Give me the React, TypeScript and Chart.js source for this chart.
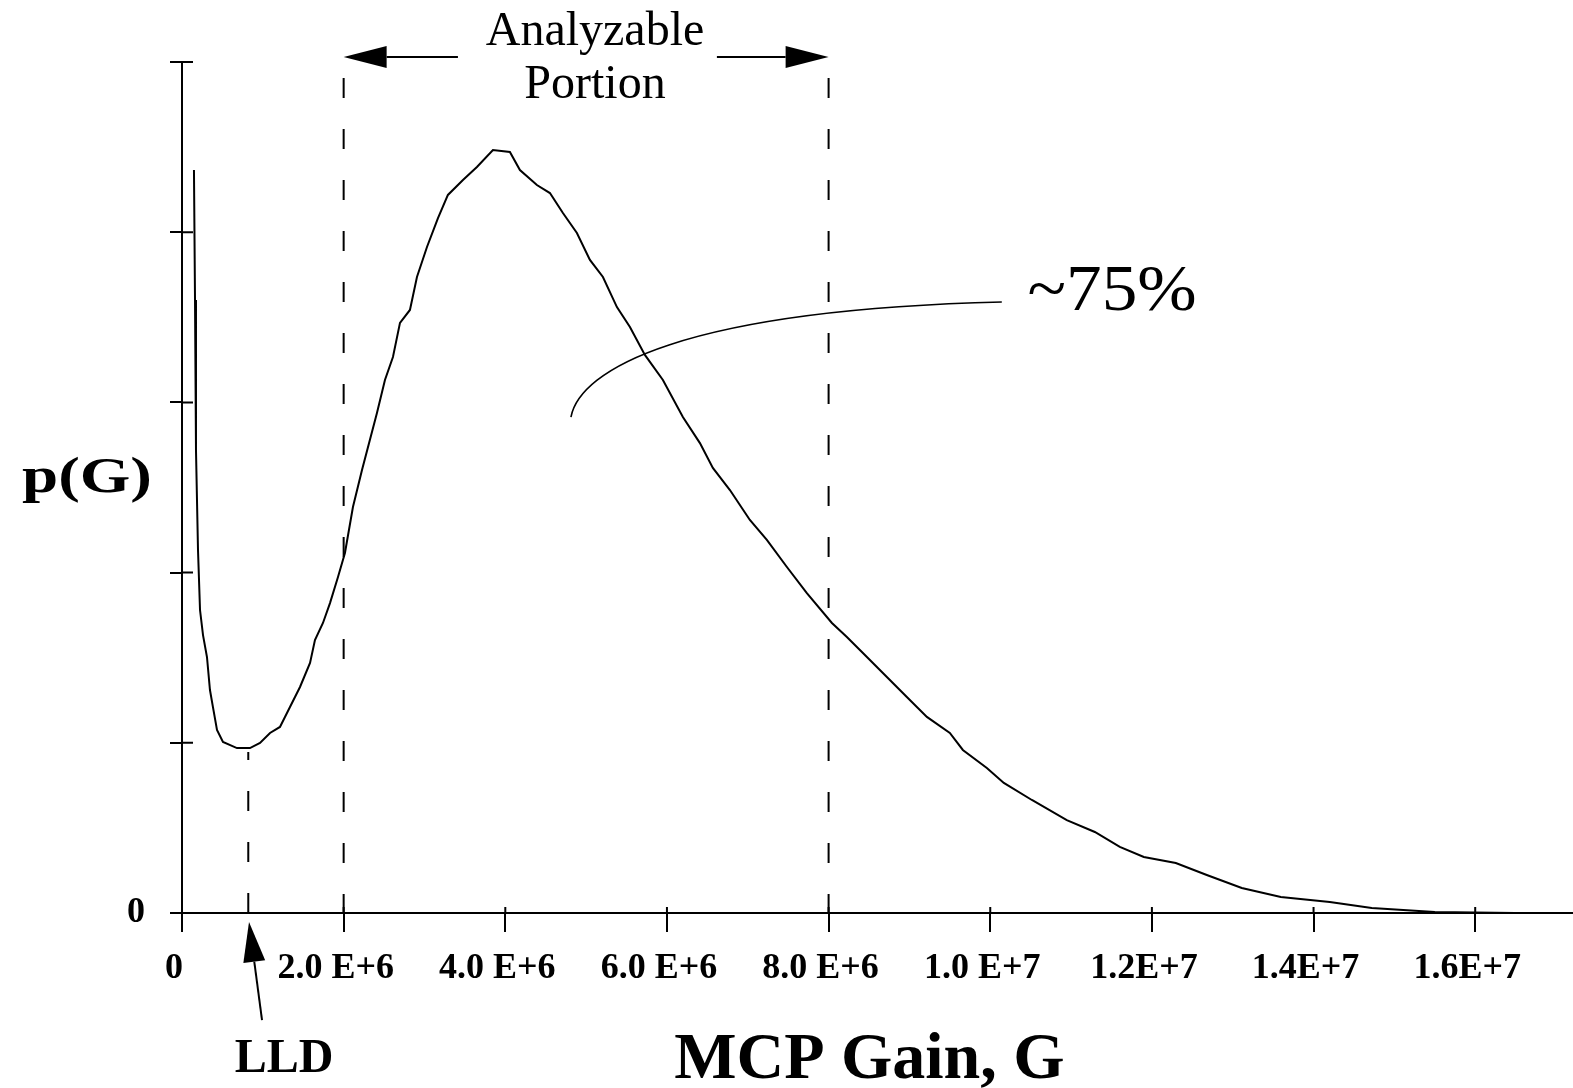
import React, { useEffect, useRef } from 'react';
import { Chart, registerables } from 'chart.js';

Chart.register(...registerables);

// Gain in units of 1E6
const gainMillions = [
  0.148, 0.161, 0.173, 0.198, 0.223, 0.26, 0.309, 0.346, 0.383, 0.433,
  0.507, 0.68, 0.841, 0.965, 1.089, 1.212, 1.336, 1.46, 1.584, 1.645,
  1.744, 1.831, 1.93, 2.016, 2.115, 2.227, 2.412, 2.511, 2.61, 2.697,
  2.82, 2.907, 3.031, 3.167, 3.29, 3.476, 3.649, 3.847, 4.057, 4.181,
  4.391, 4.552, 4.713, 4.886, 5.047, 5.208, 5.381, 5.542, 5.727, 5.95,
  6.197, 6.408, 6.568, 6.779, 7.026, 7.236, 7.484, 7.731, 8.041, 8.226,
  8.474, 8.721, 8.968, 9.216, 9.5, 9.661, 9.958, 10.168, 10.515, 10.947,
  11.294, 11.603, 11.9, 12.296, 12.679, 13.112, 13.595, 14.201, 14.72, 15.5,
  16.489,
];
const pValues = [
  4.365, 3.602, 2.72, 2.133, 1.78, 1.633, 1.504, 1.31, 1.21, 1.075,
  1.005, 0.969, 0.969, 0.999, 1.058, 1.093, 1.21, 1.328, 1.469, 1.604,
  1.704, 1.821, 1.974, 2.115, 2.385, 2.603, 2.938, 3.132, 3.267, 3.467,
  3.543, 3.737, 3.913, 4.083, 4.219, 4.307, 4.383, 4.483, 4.471, 4.365,
  4.277, 4.23, 4.113, 3.995, 3.837, 3.737, 3.56, 3.443, 3.279, 3.132,
  2.914, 2.761, 2.615, 2.485, 2.309, 2.192, 2.033, 1.88, 1.704, 1.622,
  1.504, 1.387, 1.269, 1.152, 1.058, 0.958, 0.852, 0.764, 0.664, 0.546,
  0.476, 0.388, 0.329, 0.294, 0.223, 0.147, 0.094, 0.065, 0.029, 0.006,
  0,
];

const xTickValues = [0, 2, 4, 6, 8, 10, 12, 14, 16];
const xTickLabels = ['0', '2.0 E+6', '4.0 E+6', '6.0 E+6', '8.0 E+6', '1.0 E+7', '1.2E+7', '1.4E+7', '1.6E+7'];
const yTickValues = [0, 1, 2, 3, 4, 5];
const yTickLabels = ['0', '', '', '', '', ''];

const X_MIN = 0;
const X_MAX = 17.21;
const Y_MIN = 0;
const Y_MAX = 5;

// Annotation anchors (data units)
const analyzableStart = 2.0;
const analyzableEnd = 8.0;
const lldGain = 0.82;
const dashTop = 4.906;
const lldTop = 0.946;

const SERIF = "'Liberation Serif', 'Times New Roman', serif";

function drawArrow(ctx: CanvasRenderingContext2D, x1: number, y1: number, x2: number, y2: number, headLen: number, headHalf: number) {
  const ang = Math.atan2(y2 - y1, x2 - x1);
  const bx = x2 - headLen * Math.cos(ang);
  const by = y2 - headLen * Math.sin(ang);
  ctx.beginPath();
  ctx.moveTo(x1, y1);
  ctx.lineTo(bx, by);
  ctx.stroke();
  ctx.beginPath();
  ctx.moveTo(x2, y2);
  ctx.lineTo(bx + headHalf * Math.sin(ang), by - headHalf * Math.cos(ang));
  ctx.lineTo(bx - headHalf * Math.sin(ang), by + headHalf * Math.cos(ang));
  ctx.closePath();
  ctx.fill();
}

const annotPlugin = {
  id: 'annot',
  afterDatasetsDraw(chart: any) {
    const { ctx, chartArea } = chart;
    const xs = chart.scales.x;
    const ys = chart.scales.y;
    const X = (v: number) => xs.getPixelForValue(v);
    const Y = (v: number) => ys.getPixelForValue(v);
    ctx.save();
    ctx.strokeStyle = '#000';
    ctx.fillStyle = '#000';
    ctx.lineWidth = 2;

    // axis extensions and inner tick parts
    ctx.beginPath();
    ctx.moveTo(chartArea.left, chartArea.bottom);
    ctx.lineTo(chartArea.left, chartArea.bottom + 19);
    ctx.moveTo(chartArea.left - 12, chartArea.bottom);
    ctx.lineTo(chartArea.left, chartArea.bottom);
    xTickValues.forEach((v) => {
      ctx.moveTo(X(v), chartArea.bottom);
      ctx.lineTo(X(v), chartArea.bottom - 6);
    });
    yTickValues.forEach((v) => {
      ctx.moveTo(chartArea.left, Y(v));
      ctx.lineTo(chartArea.left + 11, Y(v));
    });
    ctx.stroke();

    // dashed guide lines
    ctx.setLineDash([20, 31]);
    [analyzableStart, analyzableEnd].forEach((g) => {
      ctx.beginPath();
      ctx.moveTo(X(g), Y(dashTop));
      ctx.lineTo(X(g), Y(0));
      ctx.stroke();
    });
    ctx.beginPath();
    ctx.moveTo(X(lldGain), Y(0));
    ctx.lineTo(X(lldGain), Y(lldTop));
    ctx.stroke();
    ctx.setLineDash([]);

    // Analyzable portion arrows
    const arrowV = 5.029;
    drawArrow(ctx, X(3.414), Y(arrowV), X(analyzableStart), Y(arrowV), 43, 11);
    drawArrow(ctx, X(6.618), Y(arrowV), X(analyzableEnd), Y(arrowV), 43, 11);

    ctx.textAlign = 'center';
    ctx.textBaseline = 'alphabetic';
    ctx.font = `48px ${SERIF}`;
    ctx.fillText('Analyzable', X(5.11), Y(5.1));
    ctx.fillText('Portion', X(5.11), Y(4.788));

    // ~75% leader
    ctx.lineWidth = 1.6;
    ctx.beginPath();
    ctx.moveTo(X(4.812), Y(2.914));
    ctx.bezierCurveTo(X(4.923), Y(3.19), X(6.16), Y(3.543), X(10.143), Y(3.59));
    ctx.stroke();
    ctx.save();
    ctx.translate(X(10.46), Y(3.543));
    ctx.scale(1.08, 1);
    ctx.textAlign = 'left';
    ctx.font = `66px ${SERIF}`;
    ctx.fillText('~75%', 0, 0);
    ctx.restore();

    // LLD arrow
    ctx.lineWidth = 2;
    drawArrow(ctx, X(0.99), Y(-0.629), X(0.829), Y(-0.053), 40, 11);
    ctx.textAlign = 'center';
    ctx.font = `bold 48px ${SERIF}`;
    ctx.fillText('LLD', X(1.262), Y(-0.934));

    // axis titles
    ctx.font = `bold 66px ${SERIF}`;
    ctx.fillText('MCP Gain, G', X(8.505), Y(-0.969));

    ctx.save();
    ctx.translate(chartArea.left - 160, Y(2.474));
    ctx.scale(1.3, 1);
    ctx.textAlign = 'left';
    ctx.font = `bold 50px ${SERIF}`;
    ctx.fillText('p(G)', 0, 0);
    ctx.restore();

    ctx.restore();
  },
};

export default function App() {
  const ref = useRef<HTMLCanvasElement>(null);
  useEffect(() => {
    if (!ref.current) return;
    const points = gainMillions.map((g, i) => ({ x: g, y: pValues[i] }));
    const tickFont = { family: SERIF, weight: 'bold' as const, size: 36 };
    const chart = new Chart(ref.current, {
      type: 'line',
      data: {
        datasets: [
          {
            data: points,
            borderColor: '#000',
            borderWidth: 2,
            pointRadius: 0,
            tension: 0,
            fill: false,
          },
        ],
      },
      options: {
        responsive: false,
        animation: false,
        devicePixelRatio: 1,
        layout: { padding: { top: 62, left: 0, right: 0, bottom: 0 } },
        plugins: { legend: { display: false }, tooltip: { enabled: false } },
        scales: {
          x: {
            type: 'linear',
            min: X_MIN,
            max: X_MAX,
            afterBuildTicks: (s: any) => {
              s.ticks = xTickValues.map((v) => ({ value: v }));
            },
            afterFit: (s: any) => {
              s.height = 175;
            },
            ticks: {
              autoSkip: false,
              maxRotation: 0,
              minRotation: 0,
              labelOffset: -8,
              padding: 15,
              color: '#000',
              font: tickFont,
              callback: (_v: any, i: number) => xTickLabels[i],
            },
            grid: { drawOnChartArea: false, drawTicks: true, tickLength: 19, color: '#000', lineWidth: 2 },
            border: { display: true, color: '#000', width: 2 },
          },
          y: {
            type: 'linear',
            min: Y_MIN,
            max: Y_MAX,
            afterBuildTicks: (s: any) => {
              s.ticks = yTickValues.map((v) => ({ value: v }));
            },
            afterFit: (s: any) => {
              s.width = 182;
            },
            ticks: {
              padding: 25,
              color: '#000',
              font: tickFont,
              callback: (_v: any, i: number) => yTickLabels[i],
            },
            grid: { drawOnChartArea: false, drawTicks: true, tickLength: 12, color: '#000', lineWidth: 2 },
            border: { display: true, color: '#000', width: 2 },
          },
        },
      },
      plugins: [annotPlugin],
    });
    return () => chart.destroy();
  }, []);
  return (
    <div style={{ position: 'absolute', left: 0, top: 0, width: 1573, height: 1088, background: '#fff' }}>
      <canvas ref={ref} width={1573} height={1088} style={{ display: 'block', width: 1573, height: 1088 }} />
    </div>
  );
}
